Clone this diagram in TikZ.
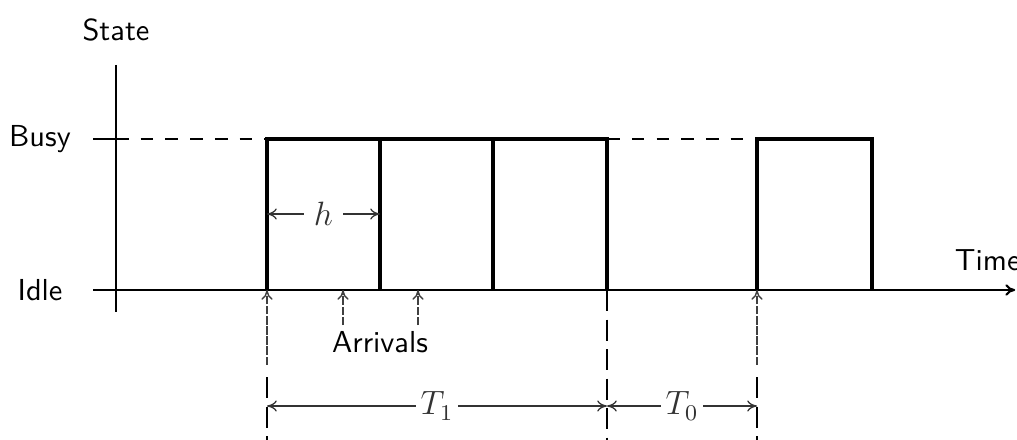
\documentclass[tikz,border=0pt]{standalone}
\usetikzlibrary{arrows.meta}
\begin{document}
\begin{tikzpicture}[
  every node/.style={font=\sffamily\fontsize{10.8}{13}\selectfont, inner sep=2pt},
  mathlbl/.style={font=\fontsize{12}{14}\selectfont, fill=white},
  axis/.style={line width=0.75pt},
  pulse/.style={line width=1.3pt},
  busyline/.style={line width=0.75pt, dash pattern=on 4.5pt off 4.3pt},
  guide/.style={line width=0.9pt, dash pattern=on 7.5pt off 3pt},
  arrival/.style={-{To[length=3.5pt,width=4pt]}, line width=0.5pt, black!75, dash pattern=on 3pt off 0.6pt},
  span/.style={{To[length=3.5pt,width=4pt]}-{To[length=3.5pt,width=4pt]}, line width=0.45pt, black!80},
]
  \useasboundingbox (0,0) rectangle (12.7125,5.4875);
  % Axis points
  \coordinate (ytop) at (1.45,4.675);
  \coordinate (ybot) at (1.45,1.5875);
  \coordinate (busytick) at (1.1625,3.75);
  \coordinate (busyax) at (1.45,3.75);
  \coordinate (idletick) at (1.1625,1.8625);
  \coordinate (timeend) at (12.69,1.8625);
  % Pulse edges, low and high
  \foreach \name/\x in {e0/3.3375, e1/4.75, e2/6.1625, e3/7.5875, f0/9.4625, f1/10.9} {
    \coordinate (\name lo) at (\x,1.8625);
    \coordinate (\name hi) at (\x,3.75);
  }
  % Nodes
  \node (state) at (1.45,5.1125) {State};
  \node (busy) at (0.5,3.75) {Busy};
  \node (idle) at (0.5,1.8625) {Idle};
  \node[anchor=west, inner sep=0pt] (time) at (11.93,2.2375) {Time};
  \node (arrivals) at (4.75,1.2125) {Arrivals};
  % Axes
  \draw[axis] (ytop) -- (ybot);
  \draw[axis] (busytick) -- (busyax);
  \draw[axis, -{To[length=3.5pt,width=4pt]}] (idletick) -- (timeend);
  \draw[busyline] (busyax) -- (e0hi);
  \draw[busyline] (e3hi) -- (f0hi);
  % Busy periods
  \draw[pulse] (e0lo) -- (e0hi) -- (e3hi) -- (e3lo);
  \draw[pulse] (e1lo) -- (e1hi);
  \draw[pulse] (e2lo) -- (e2hi);
  \draw[pulse] (f0lo) -- (f0hi) -- (f1hi) -- (f1lo);
  % Service time h
  \coordinate (h0) at (3.3375,2.8125);
  \coordinate (h1) at (4.75,2.8125);
  \draw[span] (h0) -- node[mathlbl, inner sep=3.5pt] {$h$} (h1);
  % Arrivals
  \coordinate (a0) at (3.3375,0.925);
  \coordinate (a3) at (9.4625,0.925);
  \draw[arrival] (a0) -- (e0lo);
  \draw[arrival] (a3) -- (f0lo);
  \draw[arrival] (arrivals.north -| 4.2875,0) -- (4.2875,1.8625);
  \draw[arrival] (arrivals.north -| 5.225,0) -- (5.225,1.8625);
  % Guides down to the spans
  \draw[guide] (3.3375,0.775) -- (3.3375,-0.1);
  \draw[guide] (e3lo) -- (7.5875,-0.1);
  \draw[guide] (9.4625,0.775) -- (9.4625,-0.1);
  % Spans T1 and T0
  \coordinate (s0) at (3.3375,0.4125);
  \coordinate (s1) at (7.5875,0.4125);
  \coordinate (s2) at (9.4625,0.4125);
  \draw[span] (s0) -- node[mathlbl, inner sep=1.5pt] {$T_1$} (s1);
  \draw[span] (s1) -- node[mathlbl, inner sep=1.5pt] {$T_0$} (s2);
\end{tikzpicture}
\end{document}
